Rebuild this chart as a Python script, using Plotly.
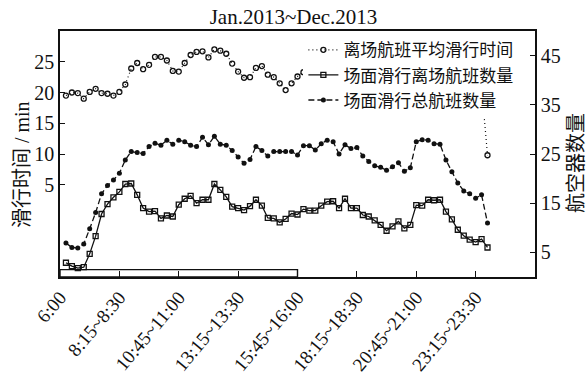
import plotly.graph_objects as go

# 15-minute slots starting at 6:00; slot i is plotted at x = i + 1
n_slots = 72
slot_x = list(range(1, n_slots + 1))

# Average taxi-out time of departures (min), left axis
taxi_time = [19.5, 20.0, 19.9, 19.0, 20.1, 20.6, 19.9, 19.8, 19.5, 20.1,
             21.3, 23.9, 24.8, 23.8, 24.5, 25.8, 25.8, 25.2, 23.5, 23.4,
             24.8, 26.1, 26.6, 26.7, 25.7, 27.0, 26.8, 26.3, 24.7, 23.4,
             22.4, 22.5, 24.0, 24.3, 22.9, 22.5, 21.5, 20.4, 21.5, 22.6,
             23.3, 23.4, 23.8, 24.5, 25.2, 24.6, 23.9, 23.2, 24.0, 24.8,
             25.5, 24.9, 24.1, 23.3, 22.6, 23.1, 23.8, 24.4, 23.7, 22.9,
             22.2, 22.8, 23.5, 24.2, 23.6, 22.8, 22.1, 21.5, 22.0, 21.3,
             21.0, 9.8]

# Departures taxiing on the surface (aircraft), right axis
dep_count = [2.9, 2.2, 1.8, 2.0, 4.7, 8.3, 12.8, 14.8, 16.2, 17.3,
             18.9, 19.0, 16.7, 14.0, 13.3, 13.4, 11.9, 12.5, 12.3, 14.7,
             15.9, 16.5, 15.0, 15.7, 15.7, 18.9, 17.7, 16.3, 14.3, 14.0,
             13.6, 14.4, 15.7, 14.5, 12.0, 11.9, 11.1, 11.8, 12.9, 12.7,
             13.8, 13.5, 13.5, 14.5, 15.3, 15.4, 14.0, 15.9, 14.0, 14.0,
             12.6, 12.3, 11.5, 10.6, 9.4, 10.3, 11.3, 9.9, 10.6, 14.6,
             14.5, 15.7, 15.6, 15.7, 13.3, 11.7, 9.6, 8.4, 7.6, 7.1,
             7.7, 6.0]

# All flights taxiing on the surface (aircraft), right axis
total_count = [6.9, 6.0, 5.9, 6.7, 9.8, 13.1, 16.9, 18.6, 19.7, 21.1,
               23.8, 25.5, 25.3, 25.1, 26.5, 27.2, 26.8, 27.8, 27.0, 27.8,
               27.5, 26.8, 26.5, 28.4, 26.9, 28.6, 27.0, 26.8, 25.7, 24.4,
               23.1, 23.9, 26.5, 25.7, 24.6, 25.5, 25.5, 25.5, 25.5, 24.8,
               26.7, 26.7, 25.8, 27.1, 27.8, 27.5, 25.0, 26.9, 26.1, 26.3,
               24.6, 23.5, 22.6, 22.3, 21.7, 22.4, 23.2, 21.5, 22.2, 27.5,
               27.9, 27.8, 27.1, 27.0, 23.8, 21.4, 19.1, 17.5, 16.9, 16.0,
               16.7, 11.0]

tick_vals = [0, 10, 20, 30, 40, 50, 60, 70, 80]
tick_text = ["6:00", "8:15~8:30", "10:45~11:00", "13:15~13:30",
             "15:45~16:00", "18:15~18:30", "20:45~21:00", "23:15~23:30", ""]

FONT = "Liberation Serif, Noto Sans CJK SC, serif"
BLACK = "#111111"

fig = go.Figure()

fig.add_trace(go.Scatter(
    x=slot_x, y=taxi_time, name="离场航班平均滑行时间",
    mode="lines+markers", yaxis="y",
    line=dict(color=BLACK, width=1.2, dash="1px,3px"),
    marker=dict(symbol="circle-open", size=5, color=BLACK,
                line=dict(width=1.3, color=BLACK)),
))
fig.add_trace(go.Scatter(
    x=slot_x, y=dep_count, name="场面滑行离场航班数量",
    mode="lines+markers", yaxis="y2",
    line=dict(color=BLACK, width=1.3),
    marker=dict(symbol="square-open", size=5, color=BLACK,
                line=dict(width=1.3, color=BLACK)),
))
fig.add_trace(go.Scatter(
    x=slot_x, y=total_count, name="场面滑行总航班数量",
    mode="lines+markers", yaxis="y2",
    line=dict(color=BLACK, width=1.3, dash="6px,3px"),
    marker=dict(symbol="circle", size=5, color=BLACK),
))

fig.update_layout(
    width=587, height=381,
    margin=dict(l=60, r=52, t=31, b=104),
    paper_bgcolor="white", plot_bgcolor="white",
    font=dict(family=FONT, size=19, color=BLACK),
    showlegend=True,
    title=dict(text="Jan.2013~Dec.2013", x=0.5, xanchor="center",
               y=0.955, yanchor="middle", yref="container",
               font=dict(family=FONT, size=21, color=BLACK)),
    xaxis=dict(
        range=[0, 80], tickmode="array", tickvals=tick_vals, ticktext=tick_text,
        tickangle=-50, ticks="inside", ticklen=6, tickwidth=1.2, tickcolor=BLACK,
        showline=True, linecolor=BLACK, linewidth=1.6, mirror=True,
        showgrid=False, zeroline=False, automargin=False,
        tickfont=dict(family=FONT, size=19, color=BLACK),
    ),
    yaxis=dict(
        range=[-10, 30], tickmode="array", tickvals=[5, 10, 15, 20, 25],
        ticks="inside", ticklen=5, tickwidth=1.2, tickcolor=BLACK,
        showline=True, linecolor=BLACK, linewidth=1.6,
        showgrid=False, zeroline=False, automargin=False,
        tickfont=dict(family=FONT, size=20, color=BLACK),
    ),
    yaxis2=dict(
        range=[0, 50], tickmode="array", tickvals=[5, 15, 25, 35, 45],
        overlaying="y", side="right",
        ticks="inside", ticklen=5, tickwidth=1.2, tickcolor=BLACK,
        showline=True, linecolor=BLACK, linewidth=1.6,
        showgrid=False, zeroline=False, automargin=False,
        tickfont=dict(family=FONT, size=20, color=BLACK),
    ),
    legend=dict(
        x=0.965, xanchor="right", y=0.995, yanchor="top",
        bgcolor="white", borderwidth=0, itemwidth=30,
        font=dict(family=FONT, size=17, color=BLACK),
        tracegroupgap=0,
    ),
    annotations=[
        dict(text="滑行时间 / min", xref="paper", yref="paper",
             x=-0.08, y=0.455, xanchor="center", yanchor="middle",
             textangle=-90, showarrow=False,
             font=dict(family=FONT, size=20, color=BLACK)),
        dict(text="航空器数量", xref="paper", yref="paper",
             x=1.085, y=0.465, xanchor="center", yanchor="middle",
             textangle=-90, showarrow=False,
             font=dict(family=FONT, size=20, color=BLACK)),
    ],
    shapes=[
        dict(type="rect", xref="x", yref="y", x0=0, x1=40, y0=-10, y1=-8.8,
             line=dict(color=BLACK, width=1.4), fillcolor="white",
             layer="below"),
    ],
)

fig.write_html("out.html")
